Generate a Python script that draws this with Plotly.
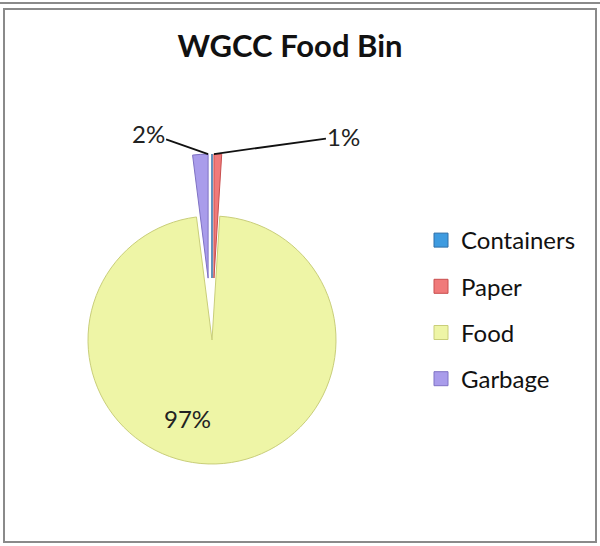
import plotly.graph_objects as go
import math

# ---- data ----
labels = ["Containers", "Paper", "Food", "Garbage"]
values = [0, 1, 97, 2]
colors = ["#3E9BE0", "#F07A7A", "#EEF5A6", "#A99CEB"]
edge_colors = ["#2F6FA8", "#C84E4E", "#C9CE7A", "#7F72C4"]
pulls = [0.5, 0.5, 0.0, 0.5]
title_text = "WGCC Food Bin"

W, H = 600, 546
FONT = "Lato, 'Open Sans', sans-serif"

dom_x = [26 / W, 398 / W]
dom_y = [1 - 526 / H, 1 - 154 / H]

total = sum(values)
pct = [v / total * 100 for v in values]

fig = go.Figure()
fig.add_trace(go.Pie(
    labels=labels,
    values=values,
    textinfo="none",
    marker=dict(colors=colors, line=dict(color=edge_colors, width=1)),
    pull=pulls,
    sort=False,
    direction="clockwise",
    rotation=0,
    domain=dict(x=dom_x, y=dom_y),
    showlegend=False,
    hoverinfo="label+percent",
))

# legend entries (spaced like the original)
for lab, c, ec in zip(labels, colors, edge_colors):
    fig.add_trace(go.Scatter(
        x=[None], y=[None], mode="markers", name=lab, legendgroup=lab,
        marker=dict(symbol="square", size=14, color=c, line=dict(color=ec, width=1)),
        hoverinfo="skip",
    ))

# geometry of the pie (same as plotly's)
cx = (dom_x[0] + dom_x[1]) / 2 * W
cy = (1 - (dom_y[0] + dom_y[1]) / 2) * H
r = min((dom_x[1] - dom_x[0]) * W, (dom_y[1] - dom_y[0]) * H) / 2 / (1 + max(pulls))

annotations = []
cum = 0.0
for i, (lab, v) in enumerate(zip(labels, values)):
    frac = v / total
    mid = (cum + frac / 2) * 2 * math.pi
    cum += frac
    if v == 0:
        continue
    if pct[i] > 50:
        # big slice: label inside, lower-left part of the pie
        annotations.append(dict(
            x=(cx - 0.2 * r) / W, y=1 - (cy + 0.63 * r) / H, xref="paper", yref="paper",
            xanchor="center", yanchor="middle",
            text=f"{pct[i]:.0f}%", showarrow=False,
            font=dict(family=FONT, size=24, color="#222222"),
        ))
        continue
    off = pulls[i] * r
    tipx = cx + off * math.sin(mid)
    tipy = cy - off * math.cos(mid) - r
    side = 1 if math.sin(mid) > 0 else -1
    annotations.append(dict(
        x=tipx / W, y=1 - tipy / H, xref="paper", yref="paper",
        text=f"{pct[i]:.0f}%", showarrow=True, arrowhead=0, arrowwidth=1.8,
        arrowcolor="#111111", ax=(130 if side > 0 else -60),
        ay=(-18 if side > 0 else -21), font=dict(family=FONT, size=24, color="#222222"),
    ))

fig.update_layout(
    width=W, height=H,
    margin=dict(l=0, r=0, t=0, b=0),
    paper_bgcolor="white", plot_bgcolor="white",
    title=dict(text=f"<b>{title_text}</b>", x=290 / W, xanchor="center",
               y=1 - 46 / H, yanchor="middle",
               font=dict(family=FONT, size=31, color="#111111")),
    xaxis=dict(visible=False), yaxis=dict(visible=False),
    legend=dict(x=421 / W, y=1 - 218 / H, xanchor="left", yanchor="top",
                font=dict(family=FONT, size=24, color="#111111"),
                tracegroupgap=12, itemclick=False, itemdoubleclick=False,
                bgcolor="rgba(0,0,0,0)"),
    annotations=annotations,
    shapes=[
        dict(type="rect", xref="paper", yref="paper",
             x0=4 / W, x1=596 / W, y0=1 - 542 / H, y1=1 - 9 / H,
             line=dict(color="#8a8a8a", width=2)),
        dict(type="line", xref="paper", yref="paper",
             x0=0, x1=1, y0=1 - 3 / H, y1=1 - 3 / H,
             line=dict(color="#8a8a8a", width=2)),
    ],
)

fig.write_html("out.html", config={"displayModeBar": False},
               post_script="document.body.style.margin='0';")
